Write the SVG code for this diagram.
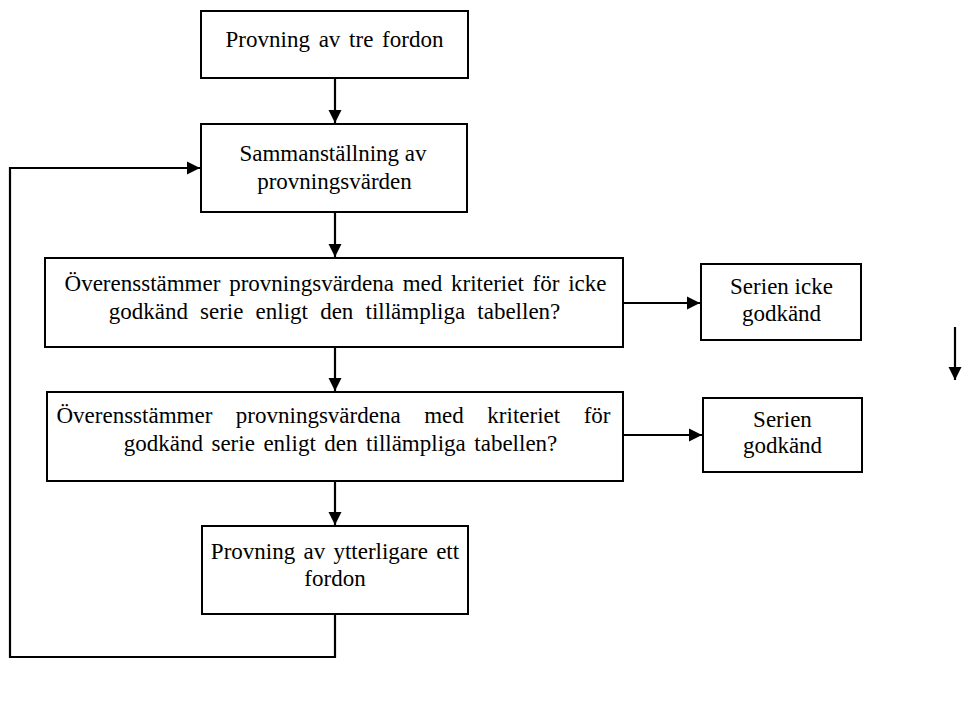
<svg xmlns="http://www.w3.org/2000/svg" width="966" height="706" viewBox="0 0 966 706">
<style>
.box{fill:#fff;stroke:#000;stroke-width:2}
.t{font-family:"Liberation Serif","DejaVu Serif",serif;font-size:23px;fill:#000;text-anchor:middle}
.c{fill:none;stroke:#000;stroke-width:2.2}
</style>
<defs>
<marker id="ah" viewBox="0 0 10 10" refX="10" refY="5" markerWidth="6" markerHeight="6" orient="auto" markerUnits="strokeWidth">
<path d="M0,0 L10,5 L0,10 z" fill="#000"/>
</marker>
</defs>
<rect width="966" height="706" fill="#fff"/>
<g id="connectors">
<line class="c" x1="335" y1="78" x2="335" y2="123" marker-end="url(#ah)"/>
<line class="c" x1="335" y1="212" x2="335" y2="257" marker-end="url(#ah)"/>
<line class="c" x1="335" y1="347" x2="335" y2="391" marker-end="url(#ah)"/>
<line class="c" x1="335" y1="481" x2="335" y2="525" marker-end="url(#ah)"/>
<line class="c" x1="623" y1="303" x2="700" y2="303" marker-end="url(#ah)"/>
<line class="c" x1="623" y1="435" x2="702" y2="435" marker-end="url(#ah)"/>
<polyline class="c" points="335,614 335,657 10,657 10,168 200,168" marker-end="url(#ah)"/>
<line class="c" x1="955" y1="327" x2="955" y2="380" marker-end="url(#ah)"/>
</g>
<g id="n1">
<rect class="box" x="201" y="11" width="267" height="67"/>
<text class="t" x="334.5" y="47" word-spacing="3">Provning av tre fordon</text>
</g>
<g id="n2">
<rect class="box" x="201" y="124" width="266" height="88"/>
<text class="t" x="333" y="161">Sammanställning av</text>
<text class="t" x="334.5" y="189">provningsvärden</text>
</g>
<g id="n3">
<rect class="box" x="45" y="258" width="578" height="89"/>
<text class="t" x="335.5" y="291" word-spacing="3">Överensstämmer provningsvärdena med kriteriet för icke</text>
<text class="t" x="334.5" y="319" word-spacing="6.4">godkänd serie enligt den tillämpliga tabellen?</text>
</g>
<g id="n4">
<rect class="box" x="701" y="264" width="160" height="76"/>
<text class="t" x="781.5" y="294">Serien icke</text>
<text class="t" x="781.5" y="321">godkänd</text>
</g>
<g id="n5">
<rect class="box" x="47" y="392" width="576" height="89"/>
<text class="t" x="333.5" y="423" word-spacing="17.8">Överensstämmer provningsvärdena med kriteriet för</text>
<text class="t" x="340.5" y="451" word-spacing="2.8">godkänd serie enligt den tillämpliga tabellen?</text>
</g>
<g id="n6">
<rect class="box" x="703" y="398" width="159" height="74"/>
<text class="t" x="782.5" y="427">Serien</text>
<text class="t" x="782.5" y="453">godkänd</text>
</g>
<g id="n7">
<rect class="box" x="202" y="526" width="266" height="88"/>
<text class="t" x="335" y="559" word-spacing="2.5">Provning av ytterligare ett</text>
<text class="t" x="335" y="586">fordon</text>
</g>
</svg>
